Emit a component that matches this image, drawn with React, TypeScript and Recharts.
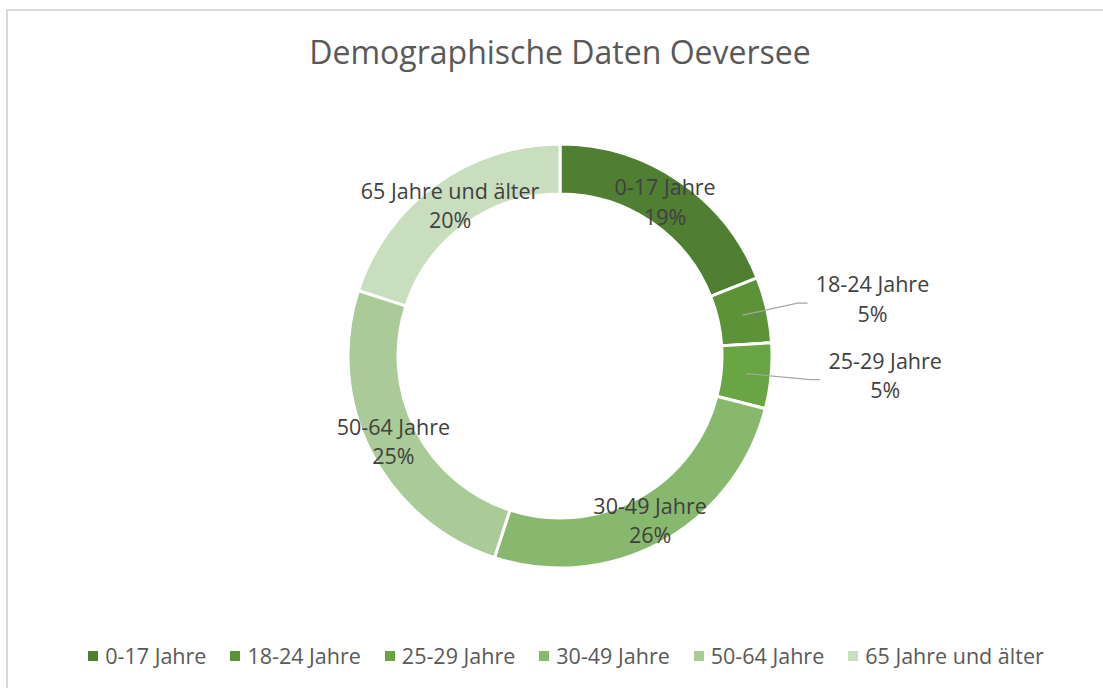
import { PieChart, Pie, Cell, Legend } from "recharts";

const CATEGORIES = [
  "0-17 Jahre",
  "18-24 Jahre",
  "25-29 Jahre",
  "30-49 Jahre",
  "50-64 Jahre",
  "65 Jahre und älter",
];
const SHARES = [19, 5, 5, 26, 25, 20];
const COLORS = ["#507E32", "#5C9238", "#6AA543", "#88B86D", "#AACB98", "#C9DDBF"];

// outside labels for the thin slices: shift of the leader end from its anchor
const OUTSIDE_LABELS: Record<string, { dx: number; dy: number }> = {
  "18-24 Jahre": { dx: 65, dy: -12 },
  "25-29 Jahre": { dx: 74, dy: 6 },
};

const FONT = "'Open Sans', sans-serif";
const RAD = Math.PI / 180;

const data = CATEGORIES.map((name, i) => ({ name, value: SHARES[i] }));

function SliceLabel(props: any) {
  const { cx, cy, midAngle, innerRadius, outerRadius, percent, name } = props;
  const r = (innerRadius + outerRadius) / 2;
  const ax = cx + r * Math.cos(-midAngle * RAD);
  const ay = cy + r * Math.sin(-midAngle * RAD);
  const pct = `${Math.round(percent * 100)}%`;
  const out = OUTSIDE_LABELS[name];

  if (!out) {
    return (
      <text x={ax} y={ay + 7} textAnchor="middle" fill="#404040" fontFamily={FONT} fontSize={21.5}>
        <tspan x={ax} dy={-13}>{name}</tspan>
        <tspan x={ax} dy={29.5}>{pct}</tspan>
      </text>
    );
  }

  const ex = ax + out.dx;
  const ey = ay + out.dy;
  const tx = ex + 10 + 55;
  return (
    <g>
      <polyline
        points={`${ax},${ay} ${ex - 10},${ey} ${ex},${ey}`}
        fill="none"
        stroke="#A6A6A6"
        strokeWidth={1.2}
      />
      <text x={tx} y={ey + 2} textAnchor="middle" fill="#404040" fontFamily={FONT} fontSize={21.5}>
        <tspan x={tx} dy={-13}>{name}</tspan>
        <tspan x={tx} dy={29.5}>{pct}</tspan>
      </text>
    </g>
  );
}

function LegendRow({ payload }: any) {
  return (
    <div style={{ display: "flex", justifyContent: "center", alignItems: "center", gap: 24 }}>
      {(payload || []).map((p: any) => (
        <div key={p.value} style={{ display: "flex", alignItems: "center" }}>
          <span style={{ width: 10, height: 10, background: p.color, marginRight: 7, display: "inline-block" }} />
          <span style={{ fontFamily: FONT, fontSize: 21.5, color: "#595959", lineHeight: "24px" }}>
            {p.value}
          </span>
        </div>
      ))}
    </div>
  );
}

export default function App() {
  return (
    <div style={{ position: "absolute", left: 0, top: 0, width: 1103, height: 688, background: "#fff", overflow: "hidden" }}>
      <div
        style={{
          position: "absolute", left: 6, top: 9, width: 1120, height: 700,
          borderLeft: "2px solid #D9D9D9", borderTop: "2px solid #D9D9D9",
        }}
      />
      <div
        style={{
          position: "absolute", left: 0, top: 30, width: 1120, textAlign: "center",
          fontFamily: FONT, fontSize: 32, color: "#595959", lineHeight: "44px",
        }}
      >
        Demographische Daten Oeversee
      </div>
      <PieChart
        width={1103}
        height={688}
        margin={{ top: 0, right: 0, bottom: 0, left: 0 }}
        style={{ position: "absolute", left: 0, top: 0 }}
      >
        <Pie
          data={data}
          dataKey="value"
          nameKey="name"
          cx={560}
          cy={356}
          innerRadius={162}
          outerRadius={212}
          startAngle={90}
          endAngle={-270}
          stroke="#FFFFFF"
          strokeWidth={3}
          label={SliceLabel}
          labelLine={false}
          isAnimationActive={false}
        >
          {data.map((d, i) => (
            <Cell key={d.name} fill={COLORS[i]} />
          ))}
        </Pie>
        <Legend
          content={<LegendRow />}
          wrapperStyle={{ position: "absolute", top: 644, left: 0, width: 1132 }}
        />
      </PieChart>
    </div>
  );
}
